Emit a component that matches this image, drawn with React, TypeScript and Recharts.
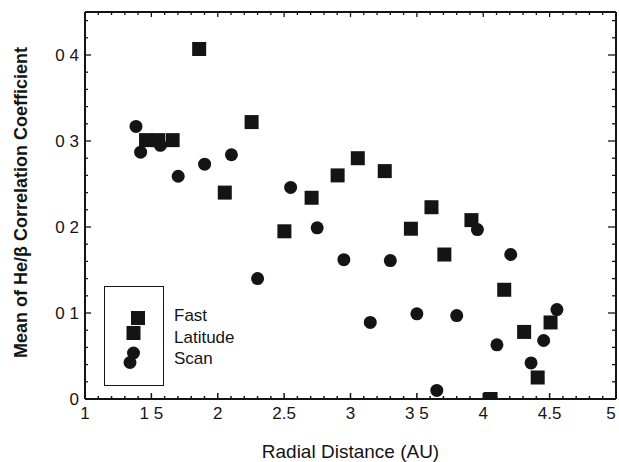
import { ScatterChart, Scatter, XAxis, YAxis } from "recharts";

// Fast Latitude Scan - squares
const fastX = [1.86, 2.255, 1.46, 1.55, 1.66, 2.053, 2.502, 2.707, 2.903, 3.055, 3.258, 3.455, 3.61, 3.707, 3.911, 4.158, 4.055, 4.308, 4.507, 4.41];
const fastY = [0.407, 0.322, 0.301, 0.301, 0.301, 0.24, 0.195, 0.234, 0.26, 0.28, 0.265, 0.198, 0.223, 0.168, 0.208, 0.127, 0.0, 0.078, 0.089, 0.025];

// circles
const scanX = [1.384, 1.419, 1.568, 1.702, 1.901, 2.103, 2.3, 2.549, 2.749, 2.95, 3.149, 3.3, 3.5, 3.65, 3.8, 3.956, 4.103, 4.207, 4.36, 4.455, 4.555];
const scanY = [0.317, 0.287, 0.295, 0.259, 0.273, 0.284, 0.14, 0.246, 0.199, 0.162, 0.089, 0.161, 0.099, 0.01, 0.097, 0.197, 0.063, 0.168, 0.042, 0.068, 0.104];

const xTicks = [1, 1.1, 1.2, 1.3, 1.4, 1.5, 1.6, 1.7, 1.8, 1.9, 2, 2.1, 2.2, 2.3, 2.4, 2.5, 2.6, 2.7, 2.8, 2.9, 3, 3.1, 3.2, 3.3, 3.4, 3.5, 3.6, 3.7, 3.8, 3.9, 4, 4.1, 4.2, 4.3, 4.4, 4.5, 4.6, 4.7, 4.8, 4.9, 5];
const xMajor = [1, 1.5, 2, 2.5, 3, 3.5, 4, 4.5, 5];
const xLabels = ["1", "1 5", "2", "2.5", "3", "3 5", "4", "4.5", "5"];

const yTicks = [0, 0.02, 0.04, 0.06, 0.08, 0.1, 0.12, 0.14, 0.16, 0.18, 0.2, 0.22, 0.24, 0.26, 0.28, 0.3, 0.32, 0.34, 0.36, 0.38, 0.4, 0.42, 0.44];
const yMajor = [0, 0.1, 0.2, 0.3, 0.4];
const yLabels = ["0", "0 1", "0 2", "0 3", "0 4"];

const fastData = fastX.map((x, i) => ({ x, y: fastY[i] }));
const scanData = scanX.map((x, i) => ({ x, y: scanY[i] }));

const INK = "#141414";
const FONT = '"Liberation Sans", Arial, sans-serif';

const majorIndex = (list: number[], v: number) =>
  list.findIndex((m) => Math.abs(m - v) < 1e-6);

function BottomTick({ x, y, payload }: any) {
  const idx = majorIndex(xMajor, payload.value);
  const len = idx >= 0 ? 6 : 3;
  // last label sits on the page edge, nudge it in so it stays readable
  const lx = idx === xMajor.length - 1 ? x - 5 : x;
  return (
    <g>
      <line x1={x} y1={y} x2={x} y2={y - len} stroke={INK} strokeWidth={1.5} />
      {idx >= 0 && (
        <text x={lx} y={y + 20} textAnchor="middle" fontSize={17} fill={INK} fontFamily={FONT}>
          {xLabels[idx]}
        </text>
      )}
    </g>
  );
}

function TopTick({ x, y, payload }: any) {
  const idx = majorIndex(xMajor, payload.value);
  const len = idx >= 0 ? 5 : 3;
  return <line x1={x} y1={y} x2={x} y2={y + len} stroke={INK} strokeWidth={1.3} />;
}

function LeftTick({ x, y, payload }: any) {
  const idx = majorIndex(yMajor, payload.value);
  const len = idx >= 0 ? 6 : 3;
  return (
    <g>
      <line x1={x} y1={y} x2={x + len} y2={y} stroke={INK} strokeWidth={1.3} />
      {idx >= 0 && (
        <text x={x - 6} y={y + 6} textAnchor="end" fontSize={17} fill={INK} fontFamily={FONT}>
          {yLabels[idx]}
        </text>
      )}
    </g>
  );
}

function RightTick({ x, y, payload }: any) {
  const idx = majorIndex(yMajor, payload.value);
  const len = idx >= 0 ? 8 : 4;
  return <line x1={x} y1={y} x2={x - len} y2={y} stroke={INK} strokeWidth={1.3} />;
}

const Square = (props: any) => (
  <rect x={props.cx - 7} y={props.cy - 7} width={14} height={14} fill={INK} />
);
const Dot = (props: any) => <circle cx={props.cx} cy={props.cy} r={6.5} fill={INK} />;
const Nothing = () => <g />;

export default function App() {
  return (
    <div style={{ position: "absolute", left: 0, top: 0, width: 619, height: 462, background: "#fff" }}>
      <ScatterChart width={619} height={462} margin={{ top: 11, right: 2, bottom: 0, left: 0 }}>
        <XAxis
          xAxisId="bottom"
          type="number"
          dataKey="x"
          domain={[1, 5]}
          allowDataOverflow
          ticks={xTicks}
          interval={0}
          height={63}
          tickSize={0}
          tickMargin={0}
          tickLine={false}
          axisLine={{ stroke: INK, strokeWidth: 2 }}
          tick={<BottomTick />}
          label={{
            value: "Radial Distance (AU)",
            position: "insideBottom",
            offset: 4,
            style: { fontSize: 19, fill: INK, fontFamily: FONT },
          }}
        />
        <XAxis
          xAxisId="top"
          orientation="top"
          type="number"
          dataKey="x"
          domain={[1, 5]}
          allowDataOverflow
          ticks={xTicks}
          interval={0}
          height={1}
          tickSize={0}
          tickMargin={0}
          tickLine={false}
          axisLine={{ stroke: INK, strokeWidth: 2 }}
          tick={<TopTick />}
        />
        <YAxis
          yAxisId="left"
          type="number"
          dataKey="y"
          domain={[0, 0.45]}
          allowDataOverflow
          ticks={yTicks}
          interval={0}
          width={85}
          tickSize={0}
          tickMargin={0}
          tickLine={false}
          axisLine={{ stroke: INK, strokeWidth: 2 }}
          tick={<LeftTick />}
          label={{
            content: (p: any) => {
              const vb = p.viewBox;
              const cx = 21;
              const cy = vb.y + vb.height / 2 - 3;
              return (
                <text
                  x={cx}
                  y={cy}
                  transform={`rotate(-90 ${cx} ${cy})`}
                  textAnchor="middle"
                  dominantBaseline="central"
                  fontSize={18}
                  fontWeight="bold"
                  fill={INK}
                  fontFamily={FONT}
                >
                  Mean of He/β Correlation Coefficient
                </text>
              );
            },
          }}
        />
        <YAxis
          yAxisId="right"
          orientation="right"
          type="number"
          dataKey="y"
          domain={[0, 0.45]}
          allowDataOverflow
          ticks={yTicks}
          interval={0}
          width={1}
          tickSize={0}
          tickMargin={0}
          tickLine={false}
          axisLine={{ stroke: INK, strokeWidth: 2 }}
          tick={<RightTick />}
        />
        {/* invisible series so the mirrored top/right axes get drawn */}
        <Scatter
          data={fastData}
          xAxisId="top"
          yAxisId="right"
          shape={Nothing}
          legendType="none"
          isAnimationActive={false}
        />
        <Scatter
          name="Scan"
          data={scanData}
          xAxisId="bottom"
          yAxisId="left"
          shape={Dot}
          isAnimationActive={false}
        />
        <Scatter
          name="Fast Latitude"
          data={fastData}
          xAxisId="bottom"
          yAxisId="left"
          shape={Square}
          isAnimationActive={false}
        />
      </ScatterChart>
      <div
        style={{
          position: "absolute",
          left: 104,
          top: 286,
          width: 58,
          height: 98,
          border: `1.5px solid ${INK}`,
        }}
      >
        <svg width={58} height={98} style={{ position: "absolute", left: 0, top: 0 }}>
          <rect x={26} y={24} width={14} height={14} fill={INK} />
          <rect x={21.5} y={39} width={14} height={14} fill={INK} />
          <circle cx={28.5} cy={66} r={6.5} fill={INK} />
          <circle cx={25} cy={75.5} r={6.5} fill={INK} />
        </svg>
      </div>
      <div
        style={{
          position: "absolute",
          left: 174,
          top: 305,
          fontFamily: FONT,
          fontSize: 17,
          lineHeight: "21.5px",
          color: INK,
        }}
      >
        <div>Fast</div>
        <div>Latitude</div>
        <div>Scan</div>
      </div>
    </div>
  );
}
